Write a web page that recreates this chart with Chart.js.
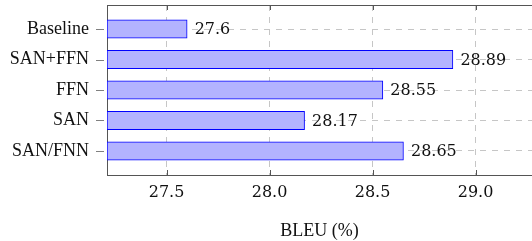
<!DOCTYPE html>
<html><head><meta charset="utf-8">
<script src="https://cdn.jsdelivr.net/npm/chart.js@4/dist/chart.umd.min.js"></script>
<style>html,body{margin:0;padding:0;background:#fff}#wrap{width:532px;height:241px;position:relative}</style>
</head><body><div id="wrap"><canvas id="c" width="532" height="241"></canvas></div>
<script>
const categories = ['Baseline', 'SAN+FFN', 'FFN', 'SAN', 'SAN/FNN'];
const bleuValues = [27.6, 28.89, 28.55, 28.17, 28.65];
const xTickValues = [27.5, 28.0, 28.5, 29.0];
const xAxisTitle = 'BLEU (%)';
const X_MIN = 27.211, X_MAX = 29.274;
const Y_PAD = 0.787;

const AXIS_COLOR = '#555555';
const GRID_COLOR = '#c6c6c6';
const LABEL_FONT = 'Liberation Serif';
const NUM_FONT = 'DejaVu Serif';

const decor = {
  id: 'decor',
  afterDatasetsDraw(chart) {
    const {ctx, chartArea: a, scales: {x, y}} = chart;
    ctx.save();
    ctx.strokeStyle = AXIS_COLOR;
    ctx.lineWidth = 1;
    ctx.beginPath();
    ctx.moveTo(a.left, Math.round(a.top) + 0.5);
    ctx.lineTo(a.right, Math.round(a.top) + 0.5);
    ctx.stroke();
    xTickValues.forEach(v => {
      const px = Math.round(x.getPixelForValue(v)) + 0.5;
      ctx.beginPath();
      ctx.moveTo(px, a.bottom); ctx.lineTo(px, a.bottom - 5);
      ctx.moveTo(px, a.top); ctx.lineTo(px, a.top + 5);
      ctx.stroke();
    });
    ctx.strokeStyle = '#808080';
    categories.forEach((c, i) => {
      const py = Math.round(y.getPixelForValue(i)) + 0.5;
      ctx.beginPath();
      ctx.moveTo(a.left - 11, py); ctx.lineTo(a.left - 3, py);
      ctx.stroke();
    });
    const meta = chart.getDatasetMeta(0);
    ctx.fillStyle = '#111';
    ctx.font = '16px "' + NUM_FONT + '"';
    ctx.textAlign = 'left';
    ctx.textBaseline = 'middle';
    meta.data.forEach((el, i) => {
      ctx.fillText(String(bleuValues[i]), el.x + 7.5, el.y + 1);
    });
    ctx.restore();
  }
};

new Chart(document.getElementById('c'), {
  type: 'bar',
  data: {
    datasets: [{
      data: bleuValues.map((v, i) => ({x: v, y: i})),
      base: X_MIN,
      backgroundColor: 'rgb(179,179,255)',
      borderColor: 'rgb(0,0,255)',
      borderWidth: 1,
      borderSkipped: false,
      barThickness: 18.5
    }]
  },
  options: {
    indexAxis: 'y',
    responsive: false,
    animation: false,
    devicePixelRatio: 1,
    layout: {padding: {top: 5, left: 0, right: 0, bottom: 0}},
    plugins: {legend: {display: false}, tooltip: {enabled: false}},
    scales: {
      x: {
        type: 'linear',
        position: 'bottom',
        min: X_MIN, max: X_MAX,
        offset: false,
        afterFit: s => { s.height = 66; s.paddingLeft = 0; s.paddingRight = 0; },
        ticks: {
          stepSize: 0.5,
          includeBounds: false,
          callback: v => Number(v).toFixed(1),
          font: {family: NUM_FONT, size: 16},
          color: '#111',
          padding: 8,
          maxRotation: 0
        },
        grid: {color: GRID_COLOR, drawTicks: false, offset: false},
        border: {display: true, color: AXIS_COLOR, width: 1, dash: [6, 6]},
        title: {
          display: true, text: xAxisTitle,
          font: {family: LABEL_FONT, size: 18},
          color: '#111',
          padding: {top: 0, bottom: -1}
        }
      },
      y: {
        type: 'linear',
        position: 'left',
        reverse: true,
        offset: false,
        min: -Y_PAD, max: categories.length - 1 + Y_PAD,
        afterFit: s => { s.width = 107; s.paddingTop = 0; s.paddingBottom = 0; },
        ticks: {
          stepSize: 1,
          includeBounds: false,
          callback: v => categories[v] ?? '',
          font: {family: LABEL_FONT, size: 18},
          color: '#111',
          padding: 18
        },
        grid: {color: GRID_COLOR, drawTicks: false, offset: false},
        border: {display: true, color: AXIS_COLOR, width: 1, dash: [6, 6]}
      }
    }
  },
  plugins: [decor]
});
</script></body></html>
